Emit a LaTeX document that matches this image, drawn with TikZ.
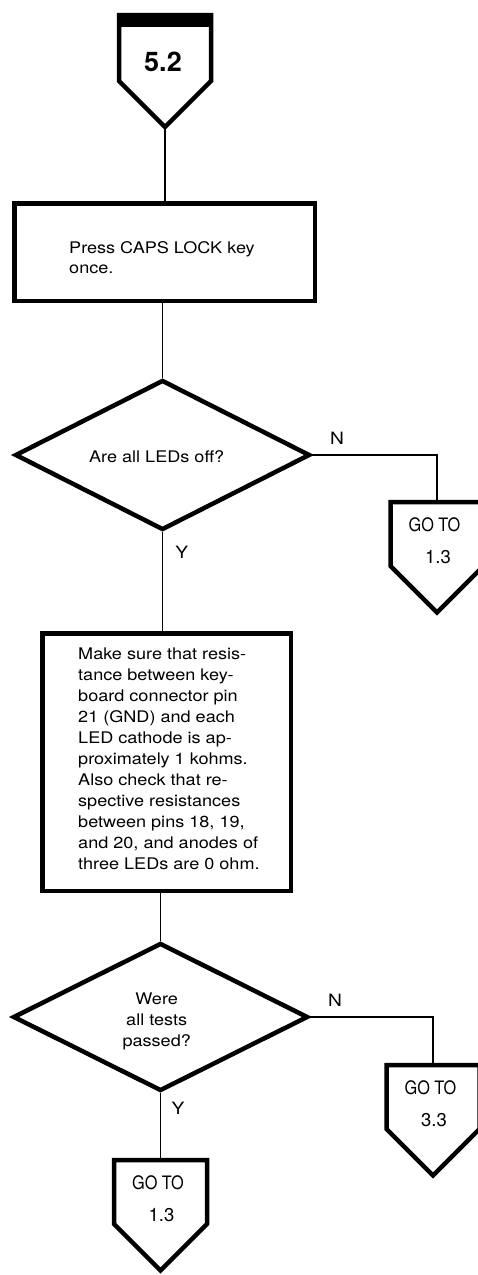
\documentclass[tikz,border=0pt]{standalone}
\usepackage{fontspec}
\setmainfont{TeX Gyre Heros}
\newfontfamily\bodyfont[FakeStretch=1.13]{TeX Gyre Heros}
\newfontfamily\gofont[FakeStretch=0.88]{TeX Gyre Heros}
\usetikzlibrary{shapes.geometric}
\begin{document}
\begin{tikzpicture}[x=1pt,y=-1pt,line join=miter,
  conn/.style={line width=1.8pt},
  shapeline/.style={line width=4.5pt},
  boxst/.style={draw,rectangle,line width=4.5pt,inner sep=0pt},
  dia/.style={draw,diamond,line width=4.5pt,inner sep=0pt},
  bodytxt/.style={font=\bodyfont\fontsize{16}{21}\selectfont,inner sep=0pt},
  lbl/.style={font=\bodyfont\fontsize{17}{20}\selectfont,inner sep=0pt},
  gotxt/.style={font=\gofont\fontsize{18.5}{20}\selectfont,inner sep=0pt},
  numtxt/.style={font=\fontsize{18.5}{20}\selectfont,inner sep=0pt},
  goto/.pic={
    \draw[shapeline] (-46.5,0) -- (46.5,0) -- (46.5,64) -- (0,110.5) -- (-46.5,64) -- cycle;
    \coordinate (-top) at (0,0);
    \node[gotxt] (-a) at (-2.5,22.5) {GO TO};
    \node[numtxt] (-b) at (1,55.5) {#1};
  }]
\useasboundingbox (0,0) rectangle (478,1275);

% start connector 5.2
\fill (117,13) rectangle (213,27);
\draw[shapeline] (119,15) -- (211,15) -- (211,81) -- (165,127) -- (119,81) -- cycle;
\coordinate (c52tip) at (165,127);
\node[font=\bfseries\fontsize{27}{30}\selectfont,inner sep=0pt] (c52) at (163,62) {5.2};

% box 1
\node[boxst,minimum width=300.5pt,minimum height=97.5pt] (b1) at (164.5,252) {};
\node[bodytxt,align=left,anchor=north west,font=\bodyfont\fontsize{16}{20}\selectfont] (b1t) at (69,241.5)
  {Press CAPS LOCK key\\once.};

% diamond 1
\node[dia,minimum width=295pt,minimum height=150pt] (d1) at (162.5,455) {};
\node[bodytxt] (d1t) at (156.7,456.5) {Are all LEDs off?};

% box 2
\node[boxst,minimum width=248.5pt,minimum height=257.5pt] (b2) at (166.5,762) {};
\node[bodytxt,align=left,anchor=north west] (b2t) at (78,648)
  {Make sure that resis-\\tance between key-\\board connector pin\\21 (GND) and each\\LED cathode is ap-\\proximately 1 kohms.\\Also check that re-\\spective resistances\\between pins 18, 19,\\and 20, and anodes of\\three LEDs are 0 ohm.};

% diamond 2
\node[dia,minimum width=295pt,minimum height=148pt] (d2) at (160.5,1017) {};
\node[bodytxt,align=center] (d2t) at (156.7,1021) {Were\\all tests\\passed?};

% off-page connectors
\pic (g1) at (437,502) {goto=1.3};
\pic (g3) at (433,1065) {goto=3.3};
\pic (g4) at (160.5,1160) {goto=1.3};

% connectors
\draw[conn] (c52tip) -- (c52tip |- b1.north);
\draw[conn] (d1.north |- b1.south) -- (d1.north);
\draw[conn] (d1.east) -| (g1-top);
\draw[conn] (d1.south) -- (d1.south |- b2.north);
\draw[conn] (d2.north |- b2.south) -- (d2.north);
\draw[conn] (d2.east) -| (g3-top);
\draw[conn] (d2.south) -- (g4-top);

% labels
\node[lbl] (n1) at (337,438) {N};
\node[lbl] (y1) at (181.7,552) {Y};
\node[lbl] (n2) at (335,1000) {N};
\node[lbl] (y2) at (178,1108) {Y};
\end{tikzpicture}
\end{document}
